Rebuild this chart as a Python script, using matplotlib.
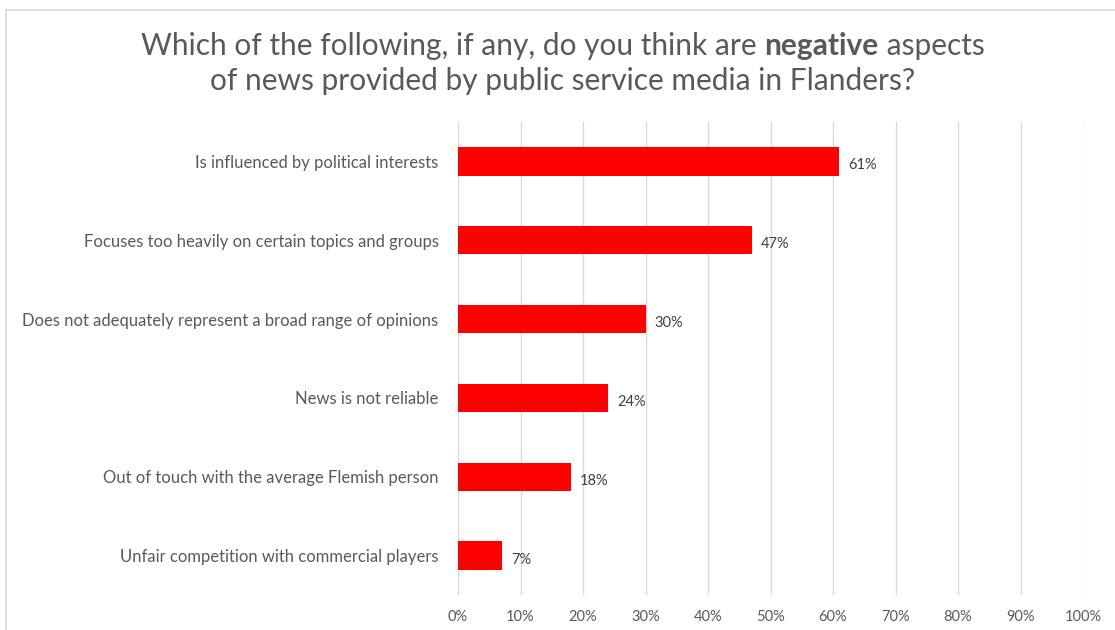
import matplotlib.pyplot as plt
from matplotlib.patches import Rectangle

categories = [
    "Is influenced by political interests",
    "Focuses too heavily on certain topics and groups",
    "Does not adequately represent a broad range of opinions",
    "News is not reliable",
    "Out of touch with the average Flemish person",
    "Unfair competition with commercial players",
]
values = [61, 47, 30, 24, 18, 7]
ticks = [0, 10, 20, 30, 40, 50, 60, 70, 80, 90, 100]
tick_labels = [f"{t}%" for t in ticks]

plt.rcParams['font.family'] = ['Lato', 'DejaVu Sans']
TXT = '#595959'
GRID = '#d9d9d9'

fig = plt.figure(figsize=(11.15, 6.3), dpi=100)
ax = fig.add_axes([458 / 1115, 1 - 595 / 630, 625 / 1115, 473 / 630])

ypos = list(range(len(categories)))
ax.barh(ypos, values, height=0.36, color='#ff0000', zorder=3)
for y, v in zip(ypos, values):
    ax.text(v + 1.5, y + 0.05, f"{v}%", va='center', ha='left', fontsize=10.5, color='#404040')

ax.set_xlim(0, 100)
ax.set_ylim(len(categories) - 0.5, -0.5)
ax.set_xticks(ticks)
ax.set_xticklabels(tick_labels, fontsize=10.5, color=TXT)
ax.set_yticks(ypos)
ax.set_yticklabels(categories, fontsize=12, color=TXT)
ax.tick_params(axis='both', length=0)
ax.tick_params(axis='x', pad=11)
ax.tick_params(axis='y', pad=14)
ax.grid(axis='x', color=GRID, linewidth=1, zorder=0)
for s in ax.spines.values():
    s.set_visible(False)

# light frame around the chart area
fig.patches.append(Rectangle((6 / 1115, -0.1), 1.2, 1 - 10 / 630 + 0.1,
                             transform=fig.transFigure, fill=False,
                             edgecolor=GRID, linewidth=1.2))

# title, with the word "negative" in bold
fig.canvas.draw()
r = fig.canvas.get_renderer()
parts = [("Which of the following, if any, do you think are ", 'normal'),
         ("negative", 'bold'),
         (" aspects", 'normal')]
objs = [fig.text(0, 0, s, fontsize=21.5, color=TXT, fontweight=w, va='baseline')
        for s, w in parts]
widths = [o.get_window_extent(r).width for o in objs]
x = 563 - sum(widths) / 2
for o, w in zip(objs, widths):
    o.set_position((x / 1115, 1 - 55 / 630))
    x += w
fig.text(563 / 1115, 1 - 90 / 630, "of news provided by public service media in Flanders?",
         fontsize=21.5, color=TXT, ha='center', va='baseline')

fig.savefig("out.png", dpi=100)
